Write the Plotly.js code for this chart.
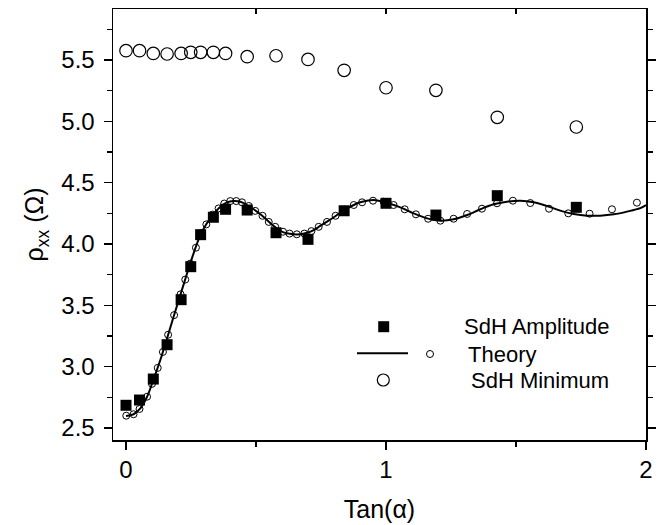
<!DOCTYPE html>
<html>
<head>
<meta charset="utf-8">
<script src="https://cdn.plot.ly/plotly-3.0.1.min.js"></script>
<style>html,body{margin:0;padding:0;background:#fff;}#chart{width:668px;height:525px;}</style>
</head>
<body>
<div id="chart"></div>
<script>
// ---- data ----
const ampX = [0, 0.052, 0.105, 0.158, 0.212, 0.249, 0.287, 0.336, 0.383, 0.466, 0.577, 0.700, 0.839, 1.000, 1.192, 1.428, 1.732];
const ampY = [2.685, 2.728, 2.899, 3.179, 3.546, 3.815, 4.076, 4.218, 4.283, 4.277, 4.092, 4.038, 4.271, 4.332, 4.236, 4.394, 4.299];

const minX = [0, 0.052, 0.105, 0.158, 0.212, 0.249, 0.287, 0.336, 0.383, 0.466, 0.577, 0.700, 0.839, 1.000, 1.192, 1.428, 1.732];
const minY = [5.576, 5.576, 5.554, 5.549, 5.554, 5.563, 5.563, 5.563, 5.554, 5.527, 5.535, 5.505, 5.416, 5.274, 5.253, 5.033, 4.954];

const theoryLineX = [0, 0.029, 0.055, 0.081, 0.106, 0.132, 0.158, 0.183, 0.209, 0.235, 0.260, 0.286, 0.311, 0.337, 0.363, 0.388, 0.414, 0.440, 0.465, 0.491, 0.517, 0.542, 0.568, 0.594, 0.619, 0.645, 0.670, 0.696, 0.722, 0.747, 0.773, 0.799, 0.824, 0.850, 0.876, 0.901, 0.927, 0.953, 0.994, 1.055, 1.106, 1.158, 1.209, 1.260, 1.312, 1.363, 1.414, 1.465, 1.517, 1.568, 1.619, 1.670, 1.722, 1.773, 1.824, 1.876, 1.927, 1.978, 2.0];
const theoryLineY = [2.598, 2.612, 2.660, 2.755, 2.897, 3.054, 3.231, 3.407, 3.584, 3.761, 3.924, 4.073, 4.169, 4.245, 4.304, 4.340, 4.351, 4.345, 4.318, 4.283, 4.242, 4.196, 4.147, 4.108, 4.087, 4.079, 4.079, 4.092, 4.114, 4.147, 4.182, 4.218, 4.255, 4.288, 4.318, 4.340, 4.353, 4.359, 4.340, 4.299, 4.250, 4.209, 4.190, 4.201, 4.236, 4.283, 4.324, 4.345, 4.353, 4.340, 4.310, 4.272, 4.245, 4.231, 4.231, 4.242, 4.264, 4.293, 4.318];

const theoryPtsX = [0.001, 0.029, 0.052, 0.081, 0.100, 0.122, 0.142, 0.162, 0.185, 0.210, 0.228, 0.247, 0.269, 0.290, 0.309, 0.333, 0.356, 0.378, 0.401, 0.424, 0.446, 0.472, 0.497, 0.525, 0.549, 0.574, 0.604, 0.629, 0.657, 0.686, 0.713, 0.741, 0.773, 0.806, 0.841, 0.876, 0.908, 0.950, 0.991, 1.029, 1.072, 1.115, 1.162, 1.209, 1.260, 1.312, 1.369, 1.427, 1.488, 1.555, 1.627, 1.701, 1.783, 1.869, 1.965];
const theoryPtsY = [2.600, 2.612, 2.655, 2.755, 2.860, 2.990, 3.120, 3.260, 3.420, 3.590, 3.710, 3.840, 3.970, 4.090, 4.160, 4.240, 4.290, 4.330, 4.350, 4.350, 4.340, 4.310, 4.270, 4.230, 4.180, 4.140, 4.100, 4.085, 4.079, 4.085, 4.105, 4.140, 4.180, 4.230, 4.280, 4.318, 4.340, 4.353, 4.345, 4.318, 4.283, 4.242, 4.206, 4.190, 4.206, 4.245, 4.288, 4.332, 4.353, 4.334, 4.288, 4.250, 4.247, 4.283, 4.337];

const xTickVals = [0, 1, 2];
const xTickText = ['0', '1', '2'];
const yTickVals = [2.5, 3.0, 3.5, 4.0, 4.5, 5.0, 5.5];
const yTickText = ['2.5', '3.0', '3.5', '4.0', '4.5', '5.0', '5.5'];

const legendNames = ['SdH Amplitude', 'Theory', 'SdH Minimum'];

// ---- layout geometry ----
const W = 668, H = 525;
const M = {l: 113, r: 22, t: 9, b: 85};
const pw = W - M.l - M.r, ph = H - M.t - M.b;
const px = v => (v - M.l) / pw;
const py = v => (H - M.b - v) / ph;

const FONT = 'Liberation Sans, Arial, Helvetica, sans-serif';

const traces = [
  {x: theoryLineX, y: theoryLineY, mode: 'lines', line: {color: '#000', width: 2, shape: 'spline'}, showlegend: false, hoverinfo: 'skip'},
  {x: theoryPtsX, y: theoryPtsY, mode: 'markers', marker: {symbol: 'circle-open', size: 7, color: '#000', line: {width: 1, color: '#000'}}, showlegend: false},
  {x: minX, y: minY, mode: 'markers', marker: {symbol: 'circle-open', size: 12.5, color: '#000', line: {width: 1.2, color: '#000'}}, showlegend: false},
  {x: ampX, y: ampY, mode: 'markers', marker: {symbol: 'square', size: 11, color: '#000', line: {width: 0}}, showlegend: false},
  {x: [], y: [], xaxis: 'x2', mode: 'markers', showlegend: false}
];

const shapes = [
  // legend: square
  {type: 'rect', xref: 'paper', yref: 'paper', x0: px(378.2), x1: px(389.2), y0: py(332.2), y1: py(321.2), fillcolor: '#000', line: {width: 0}},
  // legend: theory line
  {type: 'line', xref: 'paper', yref: 'paper', x0: px(357), x1: px(408), y0: py(353.3), y1: py(353.3), line: {color: '#000', width: 2}},
  // legend: small circle
  {type: 'circle', xref: 'paper', yref: 'paper', x0: px(426.5), x1: px(433.5), y0: py(357.5), y1: py(350.5), line: {color: '#000', width: 1}},
  // legend: big circle
  {type: 'circle', xref: 'paper', yref: 'paper', x0: px(377.3), x1: px(389.3), y0: py(386), y1: py(374), line: {color: '#000', width: 1.2}}
];

const annotations = [
  {xref: 'paper', yref: 'paper', x: px(462), y: py(326.7), xanchor: 'left', yanchor: 'middle', text: legendNames[0], showarrow: false, font: {family: FONT, size: 22, color: '#000'}},
  {xref: 'paper', yref: 'paper', x: px(466), y: py(354), xanchor: 'left', yanchor: 'middle', text: legendNames[1], showarrow: false, font: {family: FONT, size: 22, color: '#000'}},
  {xref: 'paper', yref: 'paper', x: px(469), y: py(380.5), xanchor: 'left', yanchor: 'middle', text: legendNames[2], showarrow: false, font: {family: FONT, size: 22, color: '#000'}}
];

const layout = {
  width: W, height: H,
  margin: M,
  paper_bgcolor: '#fff', plot_bgcolor: '#fff',
  font: {family: FONT, size: 24, color: '#000'},
  showlegend: false,
  xaxis: {
    range: [-0.05, 2.0],
    tickvals: xTickVals, ticktext: xTickText,
    ticks: 'outside', ticklen: 8, tickwidth: 1.5, tickcolor: '#000',
    minor: {dtick: 0.5, tick0: 0, ticks: 'outside', ticklen: 5, tickwidth: 1.5, tickcolor: '#000'},
    showline: true, linecolor: '#000', linewidth: 1.5, mirror: true,
    showgrid: false, zeroline: false,
    tickfont: {family: FONT, size: 24, color: '#000'},
    title: {text: 'Tan(α)', font: {family: FONT, size: 25, color: '#000'}, standoff: 18}
  },
  xaxis2: {
    overlaying: 'x', side: 'top', matches: 'x', range: [-0.05, 2.0],
    tickvals: [0.5, 1, 1.5], ticks: 'inside', ticklen: 5, tickwidth: 1.5, tickcolor: '#000',
    showticklabels: false, showline: false, showgrid: false, zeroline: false
  },
  yaxis: {
    range: [2.402, 5.916],
    tickvals: yTickVals, ticktext: yTickText,
    ticks: 'outside', ticklen: 8, tickwidth: 1.5, tickcolor: '#000',
    minor: {dtick: 0.25, tick0: 2.5, ticks: 'outside', ticklen: 5, tickwidth: 1.5, tickcolor: '#000'},
    showline: true, linecolor: '#000', linewidth: 1.5, mirror: 'ticks',
    showgrid: false, zeroline: false,
    tickfont: {family: FONT, size: 24, color: '#000'},
    ticklabelstandoff: 4,
    title: {text: 'ρ<sub>xx</sub> (Ω)', font: {family: FONT, size: 25, color: '#000'}, standoff: 10}
  },
  shapes: shapes,
  annotations: annotations
};

Plotly.newPlot('chart', traces, layout, {displayModeBar: false, staticPlot: true});
</script>
</body>
</html>
